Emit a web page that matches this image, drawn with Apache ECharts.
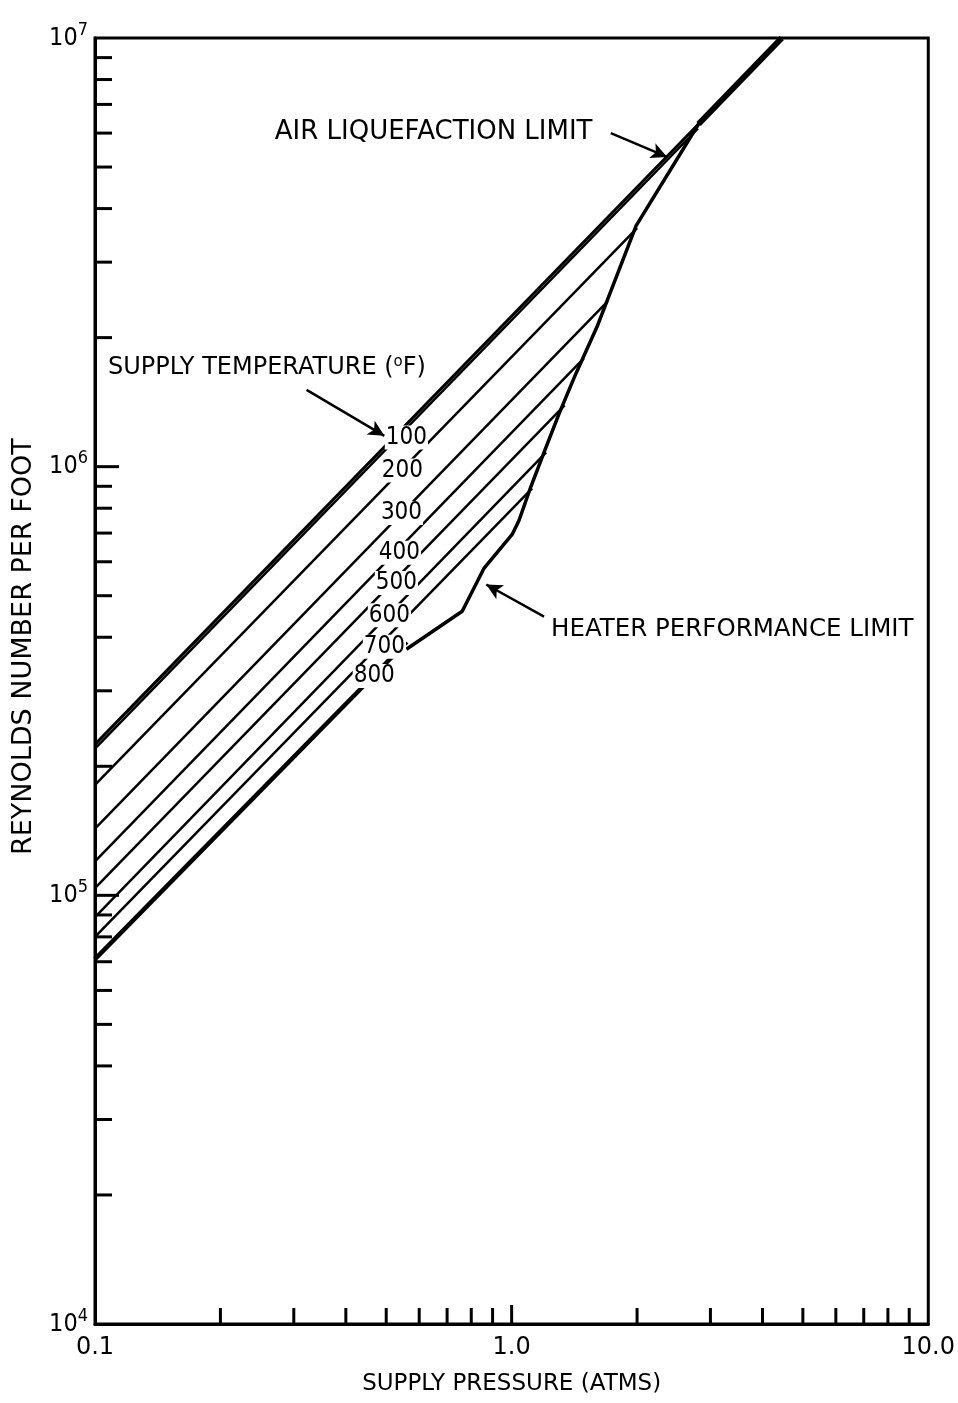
<!DOCTYPE html>
<html>
<head>
<meta charset="utf-8">
<script src="https://cdn.jsdelivr.net/npm/echarts@6/dist/echarts.min.js"></script>
<style>html,body{margin:0;padding:0;background:#fff}#c{width:958px;height:1403px}</style>
</head>
<body>
<div id="c"></div>
<script>
// ---- data ----
const temps = ['100', '200', '300', '400', '500', '600', '700', '800'];
const reStart = [2.2e5, 1.81e5, 1.43e5, 1.2e5, 1.04e5, 8.9e4, 8.0e4, 7.1e4];   // Re/ft at 0.1 atm
const endP = [2.8, 2.0, 1.70, 1.49, 1.34, 1.21, 1.12, 0.56];                     // pressure where line ends
const endRe = [6.15e6, 3.6e6, 2.43e6, 1.79e6, 1.39e6, 1.08e6, 8.9e5, 3.9e5];      // Re/ft at that end
const labelP = [0.559, 0.547, 0.544, 0.538, 0.529, 0.509, 0.495, 0.468];
const labelRe = [1.17e6, 9.8e5, 7.8e5, 6.3e5, 5.35e5, 4.5e5, 3.8e5, 3.25e5];

const liquefactionP = [0.1, 2.81, 4.45];
const liquefactionRe = [2.25e5, 6.3e6, 1.0e7];

const heaterP = [0.559, 0.761, 0.859, 1.003, 1.042, 1.113, 1.196, 1.30, 1.427, 1.603, 1.99, 2.81];
const heaterRe = [3.75e5, 4.6e5, 5.8e5, 6.95e5, 7.5e5, 9.0e5, 1.08e6, 1.33e6, 1.65e6, 2.12e6, 3.65e6, 6.3e6];

const xTickVals = [0.2, 0.3, 0.4, 0.5, 0.6, 0.7, 0.8, 0.9, 1, 2, 3, 4, 5, 6, 7, 8, 9];
const yMinorVals = [2e4,3e4,4e4,5e4,6e4,7e4,8e4,9e4, 2e5,3e5,4e5,5e5,6e5,7e5,8e5,9e5, 2e6,3e6,4e6,5e6,6e6,7e6,8e6,9e6];
const yMajorVals = [1e5, 1e6];
const xTickText = {'-1': '0.1', '0': '1.0', '1': '10.0'};

const annotations = [
  {text: 'AIR LIQUEFACTION LIMIT', p: 0.270, re: 6.04e6},
  {text: 'SUPPLY TEMPERATURE ({o|o}F)', p: 0.1074, re: 1.70e6},
  {text: 'HEATER PERFORMANCE LIMIT', p: 1.243, re: 4.17e5}
];
const arrows = [
  [[1.73, 6.0e6], [2.36, 5.28e6]],
  [[0.322, 1.51e6], [0.495, 1.18e6]],
  [[1.196, 4.47e5], [0.869, 5.31e5]]
];

const FONT = 'DejaVu Sans';
const NUMFONT = 'DejaVu Sans Condensed';
const chart = echarts.init(document.getElementById('c'), null, {renderer: 'canvas'});

const series = [];
// temperature lines
temps.forEach((t, i) => {
  series.push({
    type: 'line', name: t, z: 3, symbol: 'none', silent: true,
    lineStyle: {color: '#000', width: i === 7 ? 4.5 : 2.5},
    data: [[0.1, reStart[i]], [endP[i], endRe[i]]]
  });
});
// liquefaction limit
series.push({
  type: 'line', z: 3, symbol: 'none', silent: true,
  lineStyle: {color: '#000', width: 3},
  data: liquefactionP.map((p, i) => [p, liquefactionRe[i]])
});
series.push({
  type: 'line', z: 3, symbol: 'none', silent: true,
  lineStyle: {color: '#000', width: 6},
  data: liquefactionP.slice(1).map((p, i) => [p, liquefactionRe[i + 1]])
});
// heater performance limit
series.push({
  type: 'line', z: 3, symbol: 'none', silent: true,
  lineStyle: {color: '#000', width: 3.5},
  data: heaterP.map((p, i) => [p, heaterRe[i]])
});
// temperature labels
series.push({
  type: 'scatter', z: 6, symbolSize: 0, silent: true,
  itemStyle: {opacity: 1, color: '#000'},
  emphasis: {disabled: true},
  data: temps.map((t, i) => ({value: [labelP[i], labelRe[i]], name: t})),
  label: {
    show: true, position: 'inside', formatter: '{b}', color: '#000', opacity: 1,
    fontFamily: NUMFONT, fontSize: 24, backgroundColor: '#fff', padding: [0, 1]
  }
});
// annotations
series.push({
  type: 'scatter', z: 6, symbolSize: 0, silent: true,
  itemStyle: {opacity: 1, color: '#000'},
  emphasis: {disabled: true},
  data: annotations.map((a, i) => ({value: [a.p, a.re], name: a.text,
    label: {fontSize: i === 0 ? 26 : (i === 2 ? 24.5 : 24)}})),
  label: {
    show: true, position: 'right', distance: 0, formatter: '{b}', color: '#000', opacity: 1,
    fontFamily: FONT, fontSize: 24,
    rich: {o: {fontFamily: FONT, fontSize: 15, color: '#000', verticalAlign: 'top', padding: [0, 0, 12, 0]}}
  },
  markLine: {
    silent: true, symbol: ['none', 'arrow'], symbolSize: [12, 16],
    lineStyle: {color: '#000', width: 2.5, type: 'solid', opacity: 1}, label: {show: false},
    emphasis: {disabled: true},
    data: arrows.map(a => [{coord: a[0]}, {coord: a[1]}])
  }
});
// ticks (custom)
function tickSeries(vals, dir, len, width) {
  return {
    type: 'custom', z: 4, silent: true,
    data: vals.map(v => [v]),
    renderItem: function (params, api) {
      const v = api.value(0);
      let x1, y1, x2, y2;
      if (dir === 'x') {
        const p = api.coord([v, 1e4]);
        x1 = p[0]; y1 = p[1]; x2 = p[0]; y2 = p[1] - (v === 1 ? len + 3 : len);
      } else {
        const p = api.coord([0.1, v]);
        x1 = p[0]; y1 = p[1]; x2 = p[0] + len; y2 = p[1];
      }
      return {type: 'line', shape: {x1, y1, x2, y2}, style: {stroke: '#000', lineWidth: width}};
    }
  };
}
series.push(tickSeries(xTickVals, 'x', 16, 3));
series.push(tickSeries(yMinorVals, 'y', 17, 3));
series.push(tickSeries(yMajorVals, 'y', 24, 3));

chart.setOption({
  animation: false,
  backgroundColor: '#fff',
  grid: {left: 95, right: 28, top: 38, bottom: 79, show: true, borderColor: '#000', borderWidth: 3},
  xAxis: {
    type: 'log', logBase: 10, min: 0.1, max: 10,
    name: 'SUPPLY PRESSURE (ATMS)', nameLocation: 'middle', nameGap: 49,
    nameTextStyle: {fontFamily: FONT, fontSize: 23, color: '#000'},
    axisLine: {show: true, lineStyle: {color: '#000', width: 3}},
    axisTick: {show: false}, splitLine: {show: false},
    axisLabel: {
      color: '#000', fontFamily: FONT, fontSize: 24, margin: 12,
      formatter: v => xTickText[String(Math.round(Math.log10(v)))]
    }
  },
  yAxis: {
    type: 'log', logBase: 10, min: 1e4, max: 1e7,
    name: '        REYNOLDS NUMBER PER FOOT', nameLocation: 'middle', nameGap: 58,
    nameTextStyle: {fontFamily: FONT, fontSize: 27, color: '#000'},
    axisLine: {show: true, lineStyle: {color: '#000', width: 3}},
    axisTick: {show: false}, splitLine: {show: false},
    axisLabel: {
      color: '#000', margin: 7,
      formatter: v => '{b|10}{s|' + Math.round(Math.log10(v)) + '}',
      rich: {
        b: {fontFamily: NUMFONT, fontSize: 25, color: '#000'},
        s: {fontFamily: NUMFONT, fontSize: 18, color: '#000', verticalAlign: 'top', padding: [0, 0, 16, 0]}
      }
    }
  },
  series: series
});
</script>
</body>
</html>
